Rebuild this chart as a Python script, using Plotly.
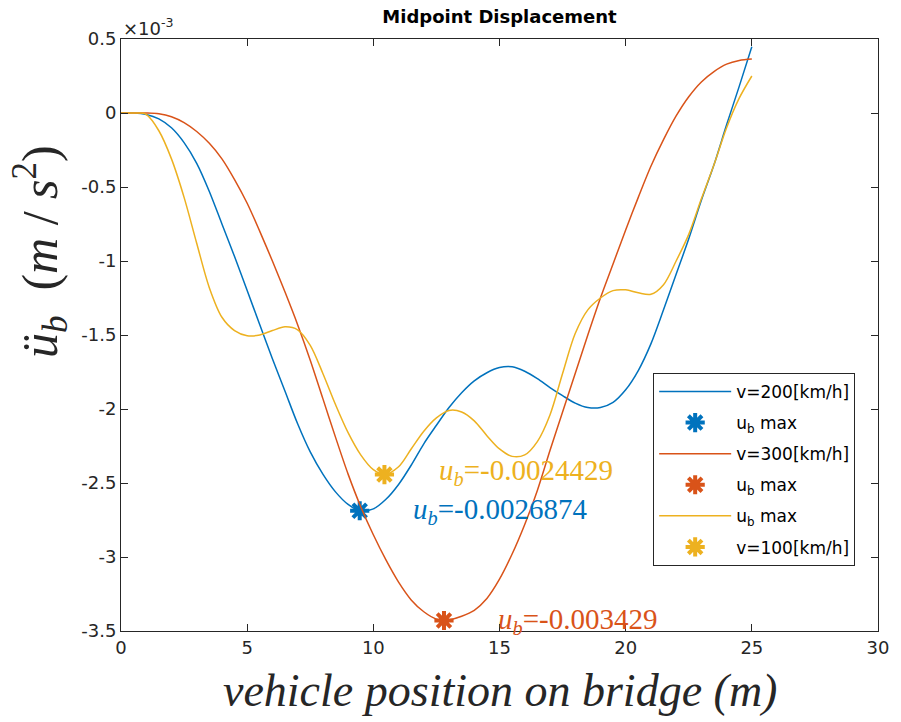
import plotly.graph_objects as go

# Midpoint displacement of the bridge for three vehicle speeds (values in 1e-3 m)
x_v200 = [0, 0.5, 1.0, 1.5, 2.0, 2.5, 3.0, 3.5, 4.0, 4.5, 5.0, 5.5, 6.0, 6.5, 7.0, 7.5, 8.0,
          8.5, 9.0, 9.46, 10.0, 10.5, 11.0, 11.5, 12.0, 12.5, 13.0, 13.5, 14.0, 14.5, 15.0,
          15.5, 16.0, 16.5, 17.0, 17.5, 18.0, 18.5, 19.0, 19.5, 20.0, 20.5, 21.0, 21.5, 22.0,
          22.5, 23.0, 23.5, 24.0, 24.5, 25.0]
y_v200 = [0, 0, -0.01, -0.04, -0.10, -0.20, -0.34, -0.53, -0.75, -0.97, -1.20, -1.43, -1.66,
          -1.88, -2.10, -2.29, -2.44, -2.56, -2.645, -2.6874, -2.675, -2.61, -2.51, -2.38,
          -2.235, -2.11, -1.99, -1.89, -1.81, -1.755, -1.72, -1.715, -1.745, -1.795, -1.855,
          -1.91, -1.96, -1.99, -1.99, -1.955, -1.87, -1.74, -1.56, -1.33, -1.09, -0.85, -0.59,
          -0.35, -0.08, 0.18, 0.448]

x_v300 = [0, 0.5, 1.0, 1.5, 2.0, 2.5, 3.0, 3.5, 4.0, 4.5, 5.0, 5.5, 6.0, 6.5, 7.0, 7.5, 8.0,
          8.5, 9.0, 9.5, 10.0, 10.5, 11.0, 11.5, 12.0, 12.5, 12.8, 13.0, 13.5, 14.0, 14.5,
          15.0, 15.5, 16.0, 16.5, 17.0, 17.5, 18.0, 18.5, 19.0, 19.5, 20.0, 20.5, 21.0, 21.5,
          22.0, 22.5, 23.0, 23.5, 24.0, 24.5, 25.0]
y_v300 = [0, 0, 0, -0.005, -0.025, -0.065, -0.125, -0.205, -0.31, -0.45, -0.61, -0.80, -1.0,
          -1.21, -1.43, -1.67, -1.93, -2.19, -2.44, -2.66, -2.85, -3.02, -3.17, -3.29, -3.37,
          -3.42, -3.429, -3.425, -3.40, -3.36, -3.28, -3.15, -2.98, -2.78, -2.55, -2.28, -2.02,
          -1.76, -1.50, -1.25, -1.02, -0.79, -0.57, -0.36, -0.18, -0.02, 0.11, 0.21, 0.28,
          0.33, 0.355, 0.365]

x_v100 = [0, 0.5, 0.8, 1.0, 1.5, 2.0, 2.5, 3.0, 3.5, 4.0, 4.5, 5.0, 5.5, 6.0, 6.5, 7.0, 7.5,
          8.0, 8.5, 9.0, 9.5, 10.0, 10.44, 11.0, 11.5, 12.0, 12.5, 13.0, 13.5, 14.0, 14.5,
          15.0, 15.5, 16.0, 16.5, 17.0, 17.5, 18.0, 18.5, 19.0, 19.5, 20.0, 20.5, 21.0, 21.5,
          22.0, 22.5, 23.0, 23.5, 24.0, 24.5, 25.0]
y_v100 = [0, 0, 0, -0.01, -0.12, -0.31, -0.57, -0.88, -1.18, -1.38, -1.47, -1.505, -1.50,
          -1.47, -1.445, -1.465, -1.57, -1.76, -1.97, -2.16, -2.31, -2.41, -2.4429, -2.39,
          -2.27, -2.15, -2.06, -2.01, -2.02, -2.08, -2.18, -2.27, -2.32, -2.31, -2.22, -2.04,
          -1.76, -1.49, -1.33, -1.25, -1.20, -1.195, -1.215, -1.225, -1.16, -1.0, -0.82,
          -0.58, -0.35, -0.10, 0.10, 0.25]

# Maximum-deflection points (position in m, value in m)
max_x = {"v200": 9.46, "v300": 12.8, "v100": 10.44}
max_u = {"v200": -0.0026874, "v300": -0.003429, "v100": -0.0024429}

y_ticks = [0.5, 0, -0.5, -1, -1.5, -2, -2.5, -3, -3.5]
y_tick_text = ["0.5", "0", "-0.5", "-1", "-1.5", "-2", "-2.5", "-3", "-3.5"]
x_ticks = [0, 5, 10, 15, 20, 25, 30]

BLUE, RED, YELLOW = "#0072BD", "#D95319", "#EDB120"
AX = "#262626"
SANS = "DejaVu Sans"
SERIF = "Liberation Serif"

def scale(vals):
    return [v * 1e-3 for v in vals]

fig = go.Figure()

def add_line(x, y, color, name, grp):
    fig.add_trace(go.Scatter(x=x, y=scale(y), mode="lines", name=name, legendgroup=grp,
                             line=dict(color=color, width=1.5, shape="spline", smoothing=0.9)))

def add_max(key, color, name, grp):
    fig.add_trace(go.Scatter(x=[max_x[key]], y=[max_u[key]], mode="markers", name=name,
                             legendgroup=grp,
                             marker=dict(symbol="asterisk-open", size=16, color=color,
                                         line=dict(color=color, width=4))))

add_line(x_v200, y_v200, BLUE, "v=200[km/h]", "a")
add_max("v200", BLUE, "u<sub>b</sub> max", "b")
add_line(x_v300, y_v300, RED, "v=300[km/h]", "c")
add_max("v300", RED, "u<sub>b</sub> max", "d")
add_line(x_v100, y_v100, YELLOW, "u<sub>b</sub> max", "e")
add_max("v100", YELLOW, "v=100[km/h]", "f")

# value labels next to each maximum
label_pos = {"v100": (12.54, -0.002426, YELLOW),
             "v200": (11.48, -0.00269, BLUE),
             "v300": (14.86, -0.00343, RED)}
for key, (lx, ly, col) in label_pos.items():
    fig.add_annotation(x=lx, y=ly, xref="x", yref="y", xanchor="left", yanchor="middle",
                       showarrow=False,
                       text=f"<i>u</i><sub><i>b</i></sub>={max_u[key]:.8g}",
                       font=dict(family=SERIF, size=29, color=col))

# exponent marker of the y axis
fig.add_annotation(x=0, y=1, xref="paper", yref="paper", xanchor="left", yanchor="bottom",
                   yshift=-2, showarrow=False, text="×10<sup>-3</sup>",
                   font=dict(family=SANS, size=18, color=AX))

# axis titles
fig.add_annotation(x=0.5, y=-0.1, xref="paper", yref="paper", xanchor="center",
                   yanchor="middle", showarrow=False,
                   text="<i>vehicle position on bridge (m)</i>",
                   font=dict(family=SERIF, size=46, color=AX))
fig.add_annotation(x=-0.107, y=0.64, xref="paper", yref="paper", xanchor="center",
                   yanchor="middle", showarrow=False, textangle=-90,
                   text="<i>ü</i><sub><i>b</i></sub>  (<i>m</i> / <i>s</i><sup>2</sup>)",
                   font=dict(family=SERIF, size=50, color=AX))

axis_common = dict(showline=True, linecolor=AX, linewidth=1, mirror="ticks", ticks="inside",
                   ticklen=7, tickcolor=AX, showgrid=False, zeroline=False,
                   tickfont=dict(family=SANS, size=18, color=AX))

fig.update_xaxes(range=[0, 30], tickvals=x_ticks, **axis_common)
fig.update_yaxes(range=[-0.0035, 0.0005], tickvals=scale(y_ticks), ticktext=y_tick_text,
                 **axis_common)

fig.update_layout(
    width=901, height=722,
    margin=dict(l=121, r=17, t=39, b=91),
    paper_bgcolor="white", plot_bgcolor="white",
    title=dict(text="<b>Midpoint Displacement</b>", x=0.5, xref="paper",
               y=1 - 17 / 722, yref="container", xanchor="center", yanchor="middle",
               font=dict(family=SANS, size=18, color="black")),
    legend=dict(x=0.703, y=0.436, xanchor="left", yanchor="top",
                bgcolor="white", bordercolor=AX, borderwidth=1,
                font=dict(family=SANS, size=17, color="black"),
                tracegroupgap=6, itemwidth=72, traceorder="grouped"),
    showlegend=True,
)

fig.write_html("out.html")
